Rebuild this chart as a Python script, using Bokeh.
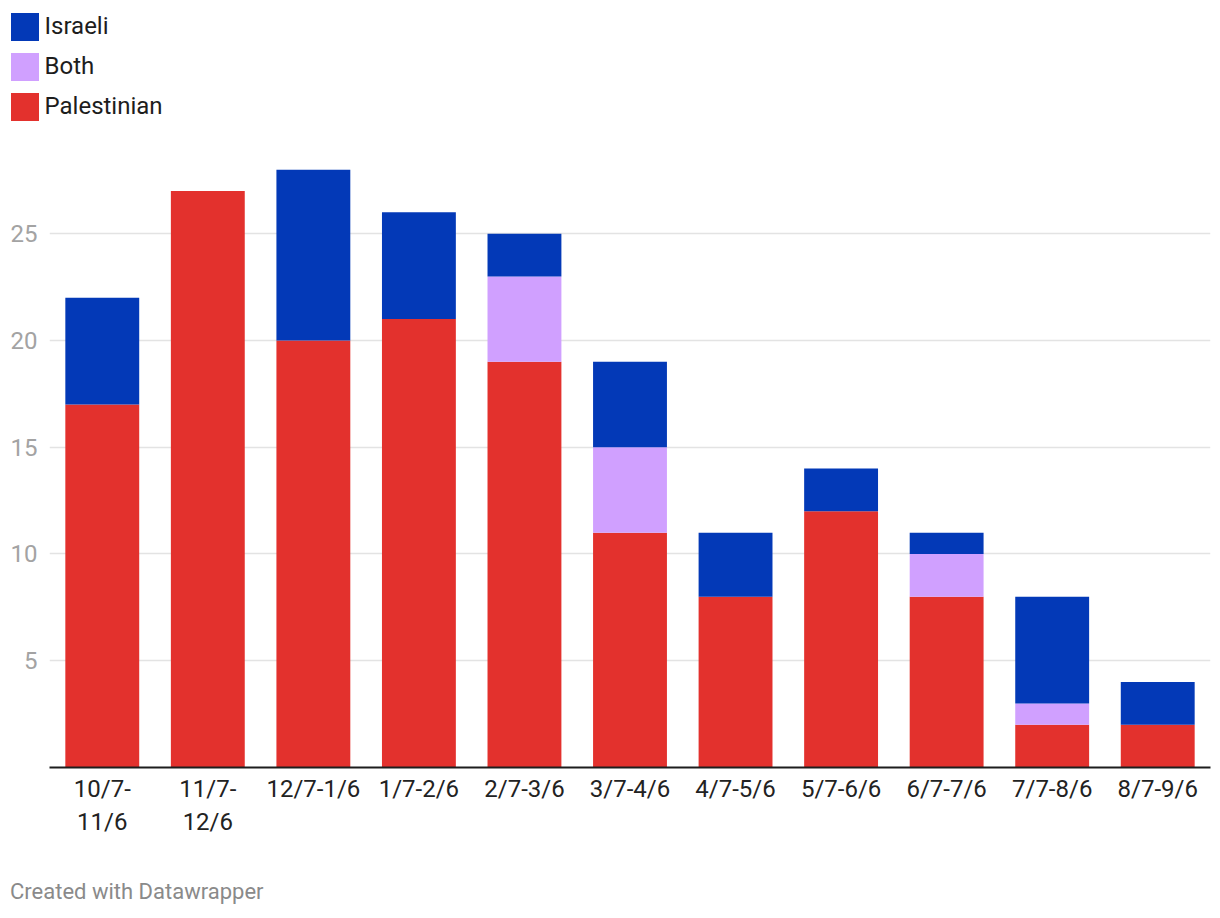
from bokeh.plotting import figure
from bokeh.layouts import column
from bokeh.models import (FactorRange, Range1d, FixedTicker, Legend, LegendItem, Div)
from bokeh.embed import file_html
from bokeh.resources import INLINE

periods = ["10/7-\n11/6", "11/7-\n12/6", "12/7-1/6", "1/7-2/6", "2/7-3/6", "3/7-4/6",
           "4/7-5/6", "5/7-6/6", "6/7-7/6", "7/7-8/6", "8/7-9/6"]
palestinian = [17, 27, 20, 21, 19, 11, 8, 12, 8, 2, 2]
both = [0, 0, 0, 0, 4, 4, 0, 0, 2, 1, 0]
israeli = [5, 0, 8, 5, 2, 4, 3, 2, 1, 5, 2]
series = ["Palestinian", "Both", "Israeli"]
colors = ["#e3312d", "#d0a0ff", "#0339b7"]
y_ticks = [5, 10, 15, 20, 25]

FONT = "Roboto"
W = 1220

# ---- main chart ----
p = figure(width=W, height=748, output_backend="svg", toolbar_location=None,
           x_range=FactorRange(factors=periods), y_range=Range1d(0, 29.74),
           min_border_left=49, min_border_right=10, min_border_top=0, min_border_bottom=113)
p.frame_align = False
p.outline_line_color = None
p.background_fill_color = "white"

data = {"period": periods, "Palestinian": palestinian, "Both": both, "Israeli": israeli}
renderers = p.vbar_stack(series, x="period", width=0.70, fill_color=colors,
                         line_color=None, source=data)

p.xaxis.axis_line_color = "#1d1d1d"
p.xaxis.axis_line_width = 2
p.xaxis.major_tick_line_color = None
p.xaxis.minor_tick_line_color = None
p.xaxis.major_tick_out = 0
p.xaxis.major_label_standoff = 7
p.xaxis.major_label_text_font = FONT
p.xaxis.major_label_text_font_size = "24px"
p.xaxis.major_label_text_color = "#222222"
p.xgrid.grid_line_color = None

p.yaxis.ticker = FixedTicker(ticks=y_ticks)
p.yaxis.axis_line_color = None
p.yaxis.major_tick_line_color = None
p.yaxis.minor_tick_line_color = None
p.yaxis.major_tick_out = 0
p.yaxis.major_label_standoff = 12
p.yaxis.major_label_text_font = FONT
p.yaxis.major_label_text_font_size = "24px"
p.yaxis.major_label_text_color = "#a3a3a3"
p.ygrid.ticker = FixedTicker(ticks=y_ticks)
p.ygrid.grid_line_color = "#e3e3e3"
p.ygrid.grid_line_width = 1.5

# ---- legend strip (top-down: Israeli, Both, Palestinian) ----
lg = figure(width=W, height=132, output_backend="svg", toolbar_location=None,
            x_axis_location=None, y_axis_location=None,
            x_range=Range1d(0, 1), y_range=Range1d(0, 1),
            min_border_left=0, min_border_right=0, min_border_top=0, min_border_bottom=0)
lg.frame_align = False
lg.outline_line_color = None
lg.grid.visible = False
# swatch renderers lie outside the visible range; they only feed the legend glyphs
swatches = {s: lg.vbar(x=[-10], top=[0], width=0.7, color=c, line_color=None)
            for s, c in zip(series, colors)}
items = [LegendItem(label=s, renderers=[swatches[s]]) for s in series[::-1]]
legend = Legend(items=items, location=(6.5, 8.5), orientation="vertical",
                glyph_width=35, glyph_height=35, label_height=35, spacing=5,
                padding=0, margin=0, label_standoff=3,
                label_text_font=FONT, label_text_font_size="24px",
                label_text_color="#1d1d1d", border_line_color=None,
                background_fill_alpha=0)
lg.add_layout(legend, "center")

footer = Div(text="Created with Datawrapper", width=W, height=38,
             styles={"font-family": "Roboto", "font-size": "22px", "color": "#8a8a8a",
                     "padding-left": "10px", "line-height": "24px", "margin": "0"})

layout = column(lg, p, footer, spacing=0)
open("out.html", "w").write(file_html(layout, INLINE))
